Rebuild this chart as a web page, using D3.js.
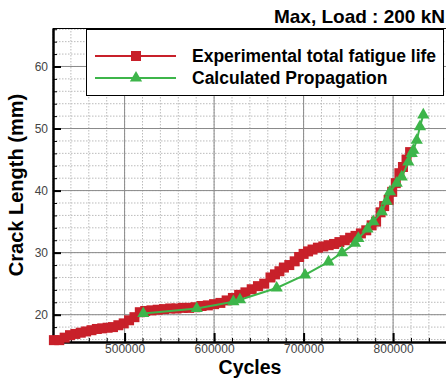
<!DOCTYPE html>
<html>
<head>
<meta charset="utf-8">
<script src="https://cdn.jsdelivr.net/npm/d3@7"></script>
<style>
  body { margin: 0; background: #fff; }
  svg { display: block; font-family: "Liberation Sans", Arial, sans-serif; }
</style>
</head>
<body>
<div id="chart"></div>
<script>
const w = 446;
const h = 378;

// data
const expCycles = [421000, 427000, 433000, 439000, 445000, 451000, 457000, 463000, 469000, 475000,
  481000, 487000, 493000, 499000, 505000, 511000, 517000, 523000, 530000, 537000,
  544000, 551000, 558000, 565000, 572000, 579000, 586000, 593000, 600000, 607000,
  614000, 621000, 628000, 635000, 642000, 649000, 656000, 663000, 668000, 673000,
  678000, 684000, 690000, 695000, 700000, 705000, 710000, 716000, 722000, 728000,
  734000, 740000, 746000, 752000, 758000, 764000, 770000, 776000, 781000, 786000,
  790000, 795000, 799000, 803000, 807000, 811000, 815000, 819000];
const expCrack = [15.9, 15.9, 16.3, 16.7, 16.9, 17.1, 17.3, 17.5, 17.7, 17.8,
  17.9, 18.0, 18.3, 18.6, 19.1, 19.6, 20.4, 20.6, 20.7, 20.8,
  20.9, 21.0, 21.0, 21.1, 21.1, 21.2, 21.4, 21.5, 21.7, 21.9,
  22.3, 22.7, 23.2, 23.6, 24.1, 24.6, 25.0, 26.0, 26.5, 27.0,
  27.6, 28.0, 28.6, 29.3, 29.8, 30.2, 30.5, 30.8, 31.0, 31.2,
  31.4, 31.7, 32.0, 32.4, 32.7, 33.1, 33.6, 34.4, 35.0, 36.5,
  37.5, 38.5, 39.8, 41.2, 42.8, 43.8, 45.0, 46.2];

const calcCycles = [520900, 580600, 621500, 628900, 669900, 701600, 727800, 742900, 757400, 761100,
  771400, 777900, 787300, 792600, 796500, 804000, 809600, 817000, 820800, 822600,
  826400, 830000, 833700];
const calcCrack = [20.2, 21.0, 22.1, 22.4, 24.3, 26.4, 28.5, 30.0, 31.5, 32.3,
  33.8, 35.0, 36.6, 38.3, 39.8, 41.2, 42.2, 44.6, 46.0, 46.5,
  48.1, 50.3, 52.2];

const xTicks = [500000, 600000, 700000, 800000];
const yTicks = [20, 30, 40, 50, 60];
const seriesNames = ["Experimental total fatigue life", "Calculated Propagation"];

const red = "#c8202a";
const green = "#3db54a";

const pLeft = 53, pTop = 28, pRight = 446, pBottom = 342;

const x = d3.scaleLinear().domain([420000, 859100]).range([pLeft, pRight]);
const y = d3.scaleLinear().domain([15.6, 66.2]).range([pBottom, pTop]);

const svg = d3.select("#chart").append("svg")
  .attr("width", w).attr("height", h);

// minor grid (dotted)
const xMinor = d3.range(420000, 860000, 20000);
const yMinor = d3.range(16, 67, 2);
svg.append("g").selectAll("line").data(xMinor).join("line")
  .attr("x1", d => x(d)).attr("x2", d => x(d))
  .attr("y1", pTop).attr("y2", pBottom)
  .attr("stroke", "#bbb").attr("stroke-dasharray", "1.5,1.5");
svg.append("g").selectAll("line").data(yMinor).join("line")
  .attr("x1", pLeft).attr("x2", pRight)
  .attr("y1", d => y(d)).attr("y2", d => y(d))
  .attr("stroke", "#bbb").attr("stroke-dasharray", "1.5,1.5");

// major grid
svg.append("g").selectAll("line").data(xTicks).join("line")
  .attr("x1", d => x(d)).attr("x2", d => x(d))
  .attr("y1", pTop).attr("y2", pBottom)
  .attr("stroke", "#8a8a8a");
svg.append("g").selectAll("line").data(yTicks).join("line")
  .attr("x1", pLeft).attr("x2", pRight)
  .attr("y1", d => y(d)).attr("y2", d => y(d))
  .attr("stroke", "#8a8a8a");

// top border
svg.append("line").attr("x1", pLeft).attr("x2", pRight)
  .attr("y1", pTop + 0.5).attr("y2", pTop + 0.5).attr("stroke", "#000");

// minor ticks (inward)
svg.append("g").attr("transform", `translate(0,${pBottom})`)
  .call(d3.axisBottom(x).tickValues(xMinor).tickSize(-4).tickFormat(""))
  .call(g => g.select(".domain").remove());
svg.append("g").attr("transform", `translate(${pLeft},0)`)
  .call(d3.axisLeft(y).tickValues(yMinor).tickSize(-4).tickFormat(""))
  .call(g => g.select(".domain").remove());

// major axes
const xAxis = svg.append("g").attr("transform", `translate(0,${pBottom})`)
  .call(d3.axisBottom(x).tickValues(xTicks).tickSizeInner(-9).tickSizeOuter(0).tickPadding(2).tickFormat(d3.format("d")));
const yAxis = svg.append("g").attr("transform", `translate(${pLeft},0)`)
  .call(d3.axisLeft(y).tickValues(yTicks).tickSizeInner(-8).tickSizeOuter(0).tickPadding(5));
[xAxis, yAxis].forEach(g => {
  g.select(".domain").attr("stroke-width", 2.5);
  g.selectAll(".tick line").attr("stroke-width", 2);
  g.selectAll("text").attr("font-size", 12).attr("fill", "#444")
    .attr("font-family", "'Liberation Sans', Arial, sans-serif");
});

// series
const expData = expCycles.map((c, i) => [c, expCrack[i]]);
const calcData = calcCycles.map((c, i) => [c, calcCrack[i]]);
const line = d3.line().x(d => x(d[0])).y(d => y(d[1]));

svg.append("path").datum(expData).attr("d", line)
  .attr("fill", "none").attr("stroke", red).attr("stroke-width", 2);
svg.append("g").selectAll("rect").data(expData).join("rect")
  .attr("x", d => x(d[0]) - 5).attr("y", d => y(d[1]) - 5)
  .attr("width", 10).attr("height", 10).attr("fill", red);

const tri = d3.symbol().type(d3.symbolTriangle).size(65);
svg.append("path").datum(calcData).attr("d", line)
  .attr("fill", "none").attr("stroke", green).attr("stroke-width", 2);
svg.append("g").selectAll("path").data(calcData).join("path")
  .attr("transform", d => `translate(${x(d[0])},${y(d[1])})`)
  .attr("d", tri).attr("fill", green);

// legend
const legend = svg.append("g");
legend.append("rect").attr("x", 86.5).attr("y", 29.5).attr("width", 357).attr("height", 66)
  .attr("fill", "#fff").attr("stroke", "#000");
const rows = [56, 78];
const colors = [red, green];
seriesNames.forEach((name, i) => {
  legend.append("line").attr("x1", 95).attr("x2", 176)
    .attr("y1", rows[i]).attr("y2", rows[i]).attr("stroke", colors[i]).attr("stroke-width", 2);
  if (i === 0) {
    legend.append("rect").attr("x", 131).attr("y", rows[i] - 5).attr("width", 10).attr("height", 10).attr("fill", red);
  } else {
    legend.append("path").attr("transform", `translate(136,${rows[i]})`).attr("d", tri).attr("fill", green);
  }
  legend.append("text").attr("x", 192).attr("y", rows[i] + 6)
    .attr("font-size", 17.5).attr("font-weight", "bold").text(name);
});

// titles
svg.append("text").attr("x", 445).attr("y", 23).attr("text-anchor", "end")
  .attr("font-size", 19).attr("font-weight", "bold").text("Max, Load : 200 kN");
svg.append("text").attr("x", 250).attr("y", 374).attr("text-anchor", "middle")
  .attr("font-size", 19.5).attr("font-weight", "bold").text("Cycles");
svg.append("text").attr("transform", "translate(23,185) rotate(-90)").attr("text-anchor", "middle")
  .attr("font-size", 20).attr("font-weight", "bold").text("Crack Length (mm)");
</script>
</body>
</html>
